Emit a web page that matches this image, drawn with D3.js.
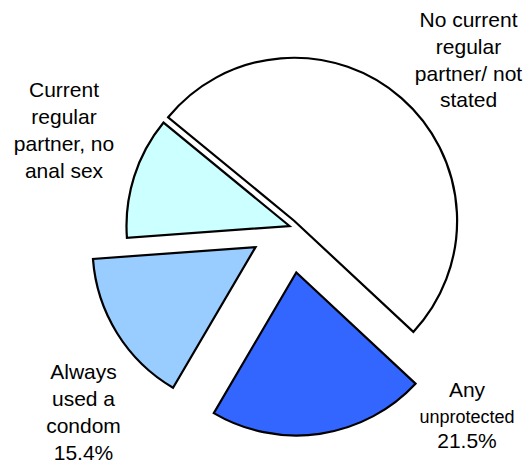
<!DOCTYPE html>
<html>
<head>
<meta charset="utf-8">
<script src="https://cdn.jsdelivr.net/npm/d3@7"></script>
<style>
  html, body { margin: 0; padding: 0; background: #fff; }
  svg { display: block; }
  text { font-family: "Liberation Sans", Arial, sans-serif; fill: #000; }
</style>
</head>
<body>
<svg id="chart" width="531" height="465"></svg>
<script>
// Data
const categories = ["No current regular partner/ not stated", "Any unprotected", "Always used a condom", "Current regular partner, no anal sex"];
const values = [51.0, 21.5, 15.4, 12.1];
const colors = ["#FFFFFF", "#3366FF", "#99CCFF", "#CCFFFF"];
const explode = [7, 47, 40, 0];

// Label text lines
const labelLines = [
  ["No current", "regular", "partner/ not", "stated"],
  ["Any", "unprotected", "21.5%"],
  ["Always", "used a", "condom", "15.4%"],
  ["Current", "regular", "partner, no", "anal sex"]
];

const svg = d3.select("#chart");
const cx = 289.5, cy = 226, R = 163;
const start = -50.6 * Math.PI / 180;

const pie = d3.pie().sort(null).value(d => d).startAngle(start).endAngle(start + 2 * Math.PI);
const arcs = pie(values);
const arc = d3.arc().innerRadius(0).outerRadius(R);

const g = svg.append("g").attr("transform", `translate(${cx},${cy})`);
g.selectAll("path").data(arcs).join("path")
  .attr("d", arc)
  .attr("fill", (d, i) => colors[i])
  .attr("stroke", "#000")
  .attr("stroke-width", 2.2)
  .attr("stroke-linejoin", "miter")
  .attr("transform", (d, i) => {
    const m = (d.startAngle + d.endAngle) / 2;
    return `translate(${explode[i] * Math.sin(m)},${-explode[i] * Math.cos(m)})`;
  });

// Labels
const labelPos = [
  { x: 468.5, y: 26.7, dy: 26.9 },
  { x: 467, y: 396.7, dy: 25.8 },
  { x: 83.5, y: 378.5, dy: 27 },
  { x: 64, y: 96.7, dy: 27.2 }
];
labelLines.forEach((lines, i) => {
  const p = labelPos[i];
  const t = svg.append("text").attr("text-anchor", "middle").attr("font-size", 21);
  lines.forEach((ln, j) => {
    t.append("tspan")
      .attr("x", p.x)
      .attr("y", p.y + j * p.dy)
      .attr("font-size", (i === 1 && j === 1) ? 18 : 21)
      .text(ln);
  });
});
</script>
</body>
</html>
